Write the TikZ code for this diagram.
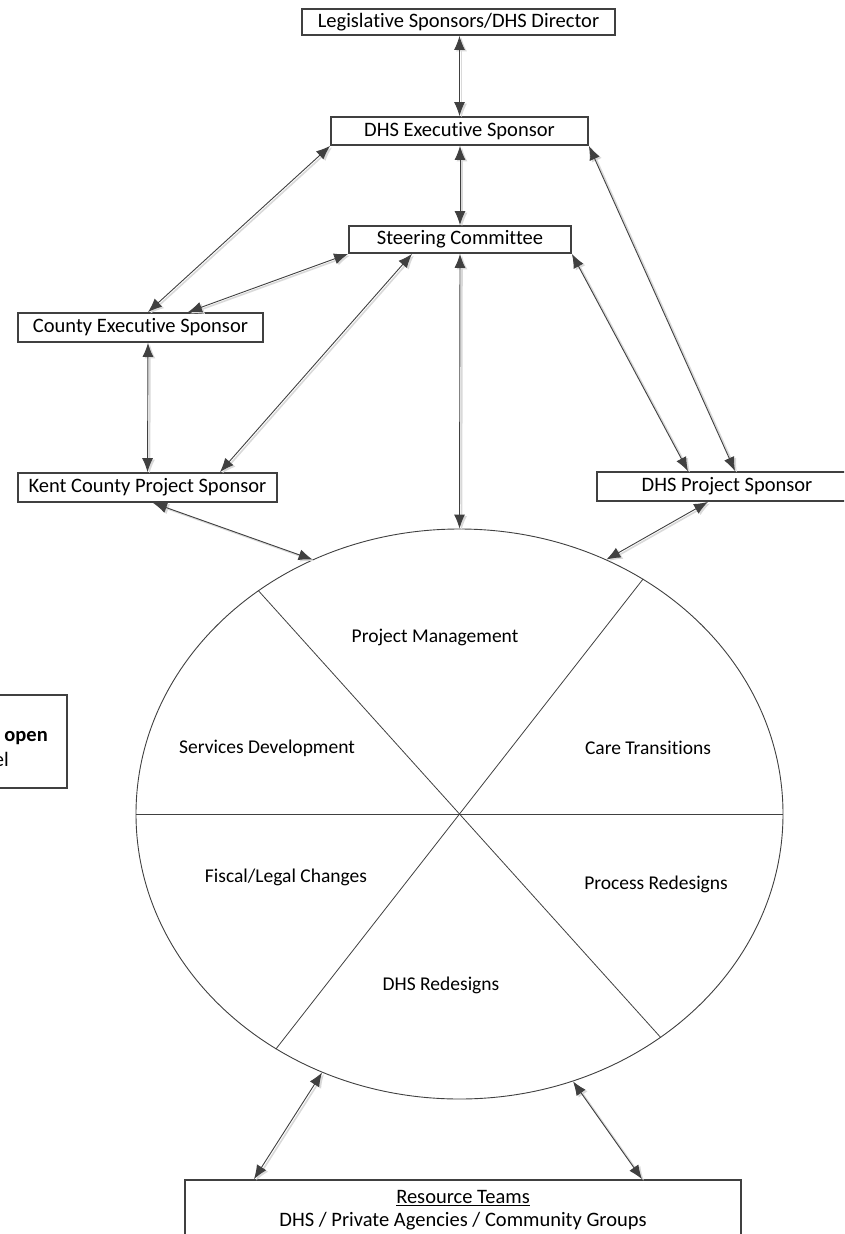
\documentclass[tikz,border=0pt]{standalone}
\usepackage{fontspec}
\setmainfont{Carlito}[Ligatures=NoCommon]
\usetikzlibrary{arrows.meta,shapes.geometric}
\definecolor{ink}{HTML}{404040}
\definecolor{shade}{HTML}{D9D9D9}
\tikzset{
  boxnode/.style={draw=ink, line width=1.8pt, fill=white, inner sep=0pt,
    minimum height=27pt, font=\fontsize{20.5}{24}\selectfont, text=black},
  segtext/.style={font=\fontsize{19.5}{23}\selectfont, text=black},
  link/.style={draw=ink, line width=0.9pt,
    {Latex[length=14pt,width=11pt]}-{Latex[length=14pt,width=11pt]},
    preaction={draw=shade, line width=1.6pt, transform canvas={xshift=2pt,yshift=-1.5pt}}},
  divider/.style={draw=ink, line width=0.8pt}
}
\begin{document}
\begin{tikzpicture}[x=1pt,y=-1pt]
\useasboundingbox (0,0) rectangle (844,1234);
\clip (0,0) rectangle (844,1234);
% boxes
\node[boxnode, minimum width=313pt, minimum height=26pt] (leg) at (458.5,22) {Legislative Sponsors/DHS Director};
\node[boxnode, minimum width=257pt, minimum height=28pt] (dexe) at (459.5,131) {DHS Executive Sponsor};
\node[boxnode, minimum width=222pt] (steer) at (460,239.5) {Steering Committee};
\node[boxnode, minimum width=245pt, minimum height=29pt] (cexe) at (140.5,327.5) {County Executive Sponsor};
\node[boxnode, minimum width=259pt, minimum height=29pt] (kent) at (147.5,487.5) {Kent County Project Sponsor};
\node[boxnode, minimum width=260pt, minimum height=29pt] (dproj) at (727,486.5) {DHS Project Sponsor};
\node[boxnode, minimum width=556pt, minimum height=60pt, align=center] (res) at (463,1210)
  {\underline{Resource Teams}\\[-1pt] DHS / Private Agencies / Community Groups};
\node[boxnode, minimum width=180pt, minimum height=93pt] (part) at (-23,741.5) {};
\node[font=\fontsize{20.5}{24}\selectfont\bfseries, anchor=east, inner sep=0pt] (partA) at (48,738) {open};
\node[font=\fontsize{20.5}{24}\selectfont, anchor=east, inner sep=0pt] (partB) at (9,759) {el};
% ellipse
\node[ellipse, draw=ink, line width=0.9pt, minimum width=647pt, minimum height=570pt, inner sep=0pt] (circ) at (459.5,814) {};
\draw[divider] (circ.180) -- (circ.0);
\draw[divider] (circ.132) -- (circ.312.6);
\draw[divider] (circ.232.7) -- (circ.52.1);
\node[segtext] (pm) at (435,637) {Project Management};
\node[segtext] (sd) at (267,748) {Services Development};
\node[segtext] (ct) at (648,748) {Care Transitions};
\node[segtext] (fl) at (286,877) {Fiscal/Legal Changes};
\node[segtext] (pr) at (656,884) {Process Redesigns};
\node[segtext] (dr) at (441,985) {DHS Redesigns};
% connectors
\draw[link] (dexe.north |- leg.south) -- (dexe.north);
\draw[link] (dexe.south -| steer.north) -- (steer.north);
\draw[link] (dexe.south west) -- ([xshift=7.5pt]cexe.north);
\draw[link] (steer.south west) -- ([xshift=47.5pt]cexe.north);
\draw[link] ([xshift=-48pt]steer.south) -- ([xshift=72.5pt]kent.north);
\draw[link] ([xshift=7.5pt]cexe.south) -- (kent.north);
\draw[link] (steer.south) -- (circ.north);
\draw[link] (steer.south east) -- ([xshift=-39pt]dproj.north);
\draw[link] (dexe.south east) -- ([xshift=8pt]dproj.north);
\draw[link] ([xshift=5.5pt]kent.south) -- (circ.120);
\draw[link] ([xshift=-19pt]dproj.south) -- (circ.60.5);
\draw[link] (circ.242.4) -- ([xshift=-209pt]res.north);
\draw[link] (circ.293.7) -- ([xshift=179pt]res.north);
\end{tikzpicture}
\end{document}
